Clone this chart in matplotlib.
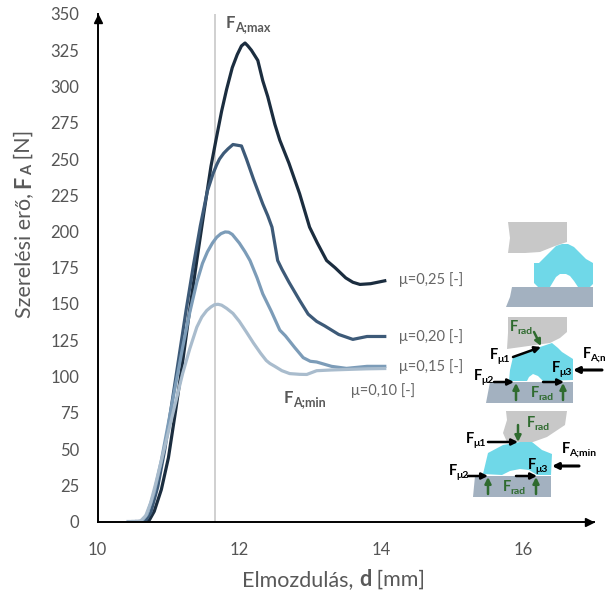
import matplotlib
matplotlib.use("Agg")
import matplotlib.pyplot as plt
from matplotlib.patches import Polygon

plt.rcParams["font.family"] = ["Lato", "DejaVu Sans"]

# colours of the four curves
colors = ["#a9bccd", "#7c9cb8", "#3d5a78", "#1b2d3f"]
labels = ["μ=0,10 [-]", "μ=0,15 [-]", "μ=0,20 [-]", "μ=0,25 [-]"]

x_10 = [10.43, 10.6, 10.68, 10.75, 10.82, 10.9, 11.0, 11.1, 11.2, 11.3, 11.4, 11.47, 11.54, 11.6, 11.65, 11.7, 11.75,
        11.82, 11.91, 12.0, 12.1, 12.2, 12.3, 12.38, 12.43, 12.5, 12.6, 12.71, 12.85, 12.95, 13.09, 13.3, 13.6, 13.8, 14.05]
y_10 = [0, 0, 4, 13, 26, 42, 62, 82, 102, 119, 134, 141, 145.5, 148, 149.5, 149.8, 149.2,
        147, 143.5, 138, 130.6, 123, 116, 111, 109, 107, 104, 102, 101.5, 101.4, 104, 104.5, 105, 105.3, 105.5]

x_15 = [10.5, 10.62, 10.7, 10.8, 10.9, 11.0, 11.1, 11.2, 11.3, 11.4, 11.48, 11.55, 11.62, 11.68, 11.74, 11.8, 11.85, 11.9,
        12.0, 12.08, 12.15, 12.25, 12.33, 12.45, 12.57, 12.65, 12.78, 12.9, 13.0, 13.09, 13.3, 13.51, 13.8, 14.05]
y_15 = [0, 0, 5, 20, 42, 68, 94, 120, 144, 165, 178, 186, 192, 196, 198.5, 199.7, 199.5, 198,
        192, 186, 180, 168, 157, 145, 132, 128, 120, 113, 110.5, 110, 107, 105.6, 107, 107]

x_20 = [10.55, 10.67, 10.75, 10.85, 10.95, 11.05, 11.15, 11.25, 11.35, 11.45, 11.55, 11.63, 11.68, 11.72, 11.78, 11.84, 11.91, 11.97, 12.03,
        12.1, 12.2, 12.33, 12.4, 12.46, 12.54, 12.6, 12.7, 12.85, 12.97, 13.09, 13.2, 13.4, 13.6, 13.8, 14.05]
y_20 = [0, 0, 6, 24, 50, 82, 114, 146, 176, 204, 228, 240, 246, 250, 254, 257, 260, 259.5, 259,
        250, 236, 219, 211, 203, 180, 174, 165, 152.5, 143, 138, 135, 129, 125.6, 127.6, 127.6]

x_25 = [10.6, 10.72, 10.8, 10.9, 11.0, 11.1, 11.2, 11.3, 11.4, 11.5, 11.6, 11.67, 11.75, 11.82, 11.9, 11.97, 12.03, 12.08,
        12.12, 12.17, 12.26, 12.33, 12.4, 12.5, 12.57, 12.7, 12.85, 12.99, 13.1, 13.23, 13.35, 13.5, 13.6, 13.7, 13.85, 14.05]
y_25 = [0, 0, 7, 22, 44, 76, 110, 146, 180, 213, 245, 263, 283, 298, 313, 322, 328, 330,
        328, 325, 318, 304, 293, 274, 263, 247, 226, 203, 192, 180, 175, 168, 165, 163.5, 164, 166]

fig = plt.figure(figsize=(6.05, 5.91), dpi=100)

# main chart, placed by pixels of the picture
ax = fig.add_axes([97.5 / 605, 1 - 521.5 / 591, (594 - 97.5) / 605, (521.5 - 14) / 591])
ax.set_xlim(10, 17)
ax.set_ylim(0, 350)

ax.axvline(11.65, color="#c8c8c8", lw=1.2, zorder=1)
ax.plot(x_25, y_25, color=colors[3], lw=2.3, solid_joinstyle="round")
ax.plot(x_20, y_20, color=colors[2], lw=2.3, solid_joinstyle="round")
ax.plot(x_15, y_15, color=colors[1], lw=2.3, solid_joinstyle="round")
ax.plot(x_10, y_10, color=colors[0], lw=2.3, solid_joinstyle="round")

for s in ["top", "right"]:
    ax.spines[s].set_visible(False)
for s in ["left", "bottom"]:
    ax.spines[s].set_linewidth(1.4)
ax.set_xticks([10, 12, 14, 16])
ax.set_yticks(range(0, 351, 25))
ax.tick_params(length=0, labelsize=12, labelcolor="#555555")
ax.tick_params(axis="x", pad=15)
ax.tick_params(axis="y", pad=13)
ax.patch.set_alpha(0)

# axis arrows
ax.plot(0.99, 0, ">", color="black", ms=6, transform=ax.transAxes, clip_on=False)
ax.plot(0, 0.99, "^", color="black", ms=6, transform=ax.transAxes, clip_on=False)

# overlay in pixel coordinates for the labels and the small drawings
ov = fig.add_axes([0, 0, 1, 1])
ov.set_xlim(0, 605)
ov.set_ylim(591, 0)
ov.axis("off")
ov.patch.set_alpha(0)

rend = fig.canvas.get_renderer()


def chain(x, y, parts, vertical=False):
    # several text pieces one after the other, each starts where the last one ended
    for txt, size, weight, off in parts:
        if vertical:
            t = ov.text(x + off, y, txt, fontsize=size, fontweight=weight, color="#595959",
                        rotation=90, ha="center", va="bottom", rotation_mode="default")
            y -= t.get_window_extent(rend).height
        else:
            t = ov.text(x, y + off, txt, fontsize=size, fontweight=weight, color="#595959", va="baseline")
            x += t.get_window_extent(rend).width


chain(242, 586, [("Elmozdulás,\u00a0", 15.5, "normal", 0), ("d", 15.5, "bold", 0), ("\u00a0[mm]", 15.5, "normal", 0)])
chain(24, 318, [("Szerelési erő,\u00a0", 15.5, "normal", 0), ("F", 15.5, "bold", 0), ("A", 10.5, "bold", 4),
                ("\u00a0[N]", 15.5, "normal", 0)], vertical=True)

# curve labels
ov.text(399, 280, labels[3], fontsize=10.5, color="#666666", va="center")
ov.text(399, 337, labels[2], fontsize=10.5, color="#666666", va="center")
ov.text(399, 367, labels[1], fontsize=10.5, color="#666666", va="center")
ov.text(351, 391, labels[0], fontsize=10.5, color="#666666", va="center")


def flabel(x, y, sub, color="black", size=10.5, sub_size=7.5):
    # bold F with a smaller subscript next to it
    ov.text(x, y, "F", fontsize=size, fontweight="bold", color=color, va="baseline", clip_on=True)
    ov.text(x + size * 0.72, y + 3, sub, fontsize=sub_size, fontweight="bold", color=color, va="baseline", clip_on=True)


flabel(226, 28, "A;max", "#595959", 12, 9)
flabel(284, 403, "A;min", "#595959", 12, 9)

GREY = "#c8c8c8"
CYAN = "#6fd8e8"
STEEL = "#a3b1c0"
GREEN = "#2f6b2f"


def shape(points, color):
    ov.add_patch(Polygon(points, fc=color, ec="none"))


# top drawing: no load
shape([(508, 222), (567, 222), (567, 242), (555, 246), (540, 252), (525, 253), (508, 253), (510, 238)], GREY)
shape([(534, 263), (539, 263), (544, 258), (550, 252), (556, 246), (562, 244), (568, 244), (574, 247), (580, 253), (586, 259), (593, 263),
      (593, 284), (590, 287), (578, 287), (574, 281), (570, 276), (566, 274), (560, 274), (556, 277), (553, 282), (550, 287), (538, 287), (534, 283)], CYAN)
shape([(512, 287), (593, 287), (593, 307), (506, 307), (510, 297)], STEEL)

# middle drawing
shape([(508, 317), (567, 317), (567, 332), (560, 338), (550, 343), (507, 349), (508, 333)], GREY)
shape([(510, 370), (513, 357), (540, 347), (552, 343), (558, 348), (562, 352), (573, 359), (573, 380), (543, 381), (538, 376), (533, 374),
      (529, 377), (527, 381), (509, 381)], CYAN)
shape([(490, 382), (573, 382), (573, 403), (486, 403)], STEEL)

# bottom drawing
shape([(506, 411), (567, 411), (565, 425), (547, 437), (533, 442), (507, 442), (503, 433), (507, 420)], GREY)
shape([(483, 474), (488, 453), (503, 445), (520, 442), (532, 442), (542, 450), (552, 454), (551, 475), (537, 475), (529, 470), (520, 469),
      (510, 471), (502, 475)], CYAN)
shape([(475, 476), (551, 476), (551, 497), (473, 497)], STEEL)


def arrow(x0, y0, x1, y1, color="black", lw=1.8):
    ov.annotate("", xy=(x1, y1), xytext=(x0, y0),
                arrowprops=dict(arrowstyle="-|>", color=color, lw=lw, shrinkA=0, shrinkB=0, mutation_scale=9))


flabel(510, 331, "rad", GREEN)
arrow(534, 332, 541, 346, GREEN)
flabel(490, 359, "μ1")
arrow(513, 357, 541, 347)
flabel(474, 380, "μ2")
arrow(494, 382, 514, 382)
flabel(552, 372, "μ3")
arrow(543, 382, 564, 382)
flabel(583, 358, "A;m")
arrow(602, 370, 573, 370, lw=2.2)
arrow(516, 400, 516, 383, GREEN)
arrow(563, 400, 563, 383, GREEN)
flabel(531, 397, "rad", GREEN)

flabel(527, 427, "rad", GREEN)
arrow(518, 425, 518, 442, GREEN)
flabel(466, 443, "μ1")
arrow(488, 442, 518, 442)
flabel(449, 475, "μ2")
arrow(468, 476, 488, 476)
flabel(528, 469, "μ3")
arrow(516, 476, 537, 476)
flabel(562, 453, "A;min")
arrow(579, 466, 552, 466, lw=2.2)
arrow(488, 494, 488, 477, GREEN)
arrow(536, 494, 536, 477, GREEN)
flabel(503, 491, "rad", GREEN)

fig.savefig("out.png", dpi=100)
